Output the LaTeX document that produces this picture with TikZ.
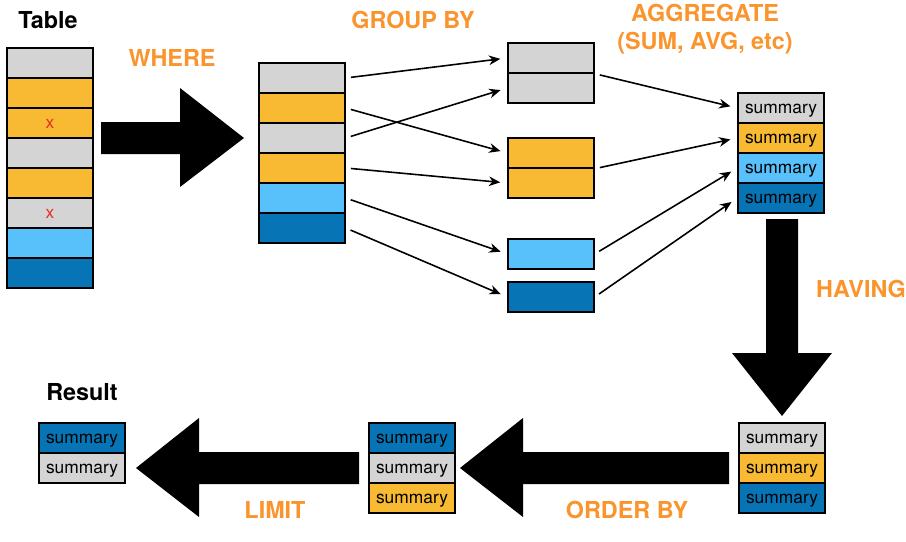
\documentclass[tikz,border=0pt]{standalone}
\usepackage{fontspec}
\setmainfont{TeX Gyre Heros}
\usetikzlibrary{arrows.meta}
\definecolor{gry}{RGB}{212,212,212}
\definecolor{org}{RGB}{248,186,50}
\definecolor{lblue}{RGB}{88,193,251}
\definecolor{dblue}{RGB}{7,116,182}
\definecolor{opcolor}{RGB}{250,148,44}
\definecolor{xred}{RGB}{232,48,36}

\begin{document}
\begin{tikzpicture}
  [x=0.02cm,y=-0.02cm,
   cell/.style={draw=black,line width=0.8pt,minimum width=1.72cm,minimum height=0.6cm,
     inner sep=0pt,text height=6.5pt,text depth=0pt,font=\fontsize{9.9}{11}\selectfont},
   head/.style={font=\bfseries\fontsize{13.3}{16}\selectfont,inner sep=0pt},
   op/.style={head,text=opcolor},
   link/.style={-{Stealth[length=6.5pt,width=5.5pt]},line width=0.9pt,
     shorten <=3pt,shorten >=4pt}]
  \useasboundingbox (0,0) rectangle (906,541);
  % labels
  \node[head] (ttable) at (48,20) {Table};
  \node[head] (tresult) at (82,392) {Result};
  \node[op] (where) at (172,58) {WHERE};
  \node[op] (groupby) at (413,20) {GROUP BY};
  \node[op] (aggr) at (705,13) {AGGREGATE};
  \node[op] (aggrfn) at (705,43) {(SUM, AVG, etc)};
  \node[op] (having) at (861,289) {HAVING};
  \node[op] (orderby) at (627,510) {ORDER BY};
  \node[op] (limit) at (275,510) {LIMIT};
  % table and filtered rows
  \foreach \i/\c/\t in {1/gry/{},2/org/{},3/org/x,4/gry/{},5/org/{},6/gry/x,7/lblue/{},8/dblue/{}}
    \node[cell,fill=\c,text=xred] (t\i) at (50,33+30*\i) {\t};
  \foreach \i/\c in {1/gry,2/org,3/gry,4/org,5/lblue,6/dblue}
    \node[cell,fill=\c] (w\i) at (302,48+30*\i) {};
  % groups
  \node[cell,fill=gry] (g1a) at (551,58) {};
  \node[cell,fill=gry] (g1b) at (551,88) {};
  \node[cell,fill=org] (g2a) at (551,153) {};
  \node[cell,fill=org] (g2b) at (551,183) {};
  \node[cell,fill=lblue] (g3) at (551,254) {};
  \node[cell,fill=dblue] (g4) at (551,297) {};
  % summaries
  \foreach \i/\c in {1/gry,2/org,3/lblue,4/dblue}
    \node[cell,fill=\c] (s\i) at (781,78+30*\i) {summary};
  \foreach \i/\c in {1/gry,2/org,3/dblue}
    \node[cell,fill=\c] (h\i) at (782,408+30*\i) {summary};
  \foreach \i/\c in {1/dblue,2/gry,3/org}
    \node[cell,fill=\c] (o\i) at (412,408+30*\i) {summary};
  \foreach \i/\c in {1/dblue,2/gry}
    \node[cell,fill=\c] (r\i) at (82,408+30*\i) {summary};
  % arrows
  \foreach \from/\to in {w1/g1a,w2/g2a,w3/g1b,w4/g2b,w5/g3,w6/g4}
    \draw[link] (\from.east) -- (\to.west);
  \foreach \from/\to in {g1a.south east/s1,g2a.south east/s2,g3.east/s3,g4.east/s4}
    \draw[link] (\from) -- (\to.west);
  % big arrows
  \fill (101,122) -- (180,122) -- (180,88) -- (244,138) -- (180,187) -- (180,154) -- (101,154) -- cycle;
  \fill (766,219) -- (798,219) -- (798,353) -- (832,353) -- (782,416) -- (732,353) -- (766,353) -- cycle;
  \fill (729,452) -- (523,452) -- (523,418) -- (460,468) -- (523,517) -- (523,484) -- (729,484) -- cycle;
  \fill (359,452) -- (199,452) -- (199,418) -- (136,468) -- (199,517) -- (199,484) -- (359,484) -- cycle;
\end{tikzpicture}
\end{document}
